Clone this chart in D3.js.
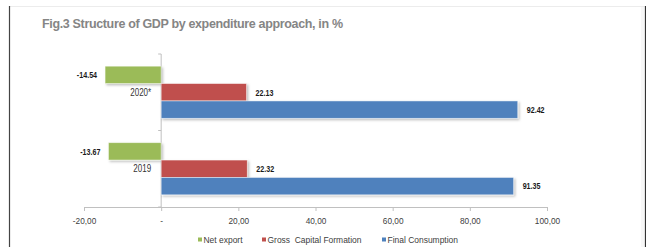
<!DOCTYPE html>
<html>
<head>
<meta charset="utf-8">
<script src="https://cdn.jsdelivr.net/npm/d3@7"></script>
<style>
  body { margin: 0; background: #fff; }
  svg { display: block; }
  text { font-family: "Liberation Sans", Arial, sans-serif; }
</style>
</head>
<body>
<svg id="chart" width="646" height="247"></svg>
<script>
/* global d3 */

// data
var years = ["2020*", "2019"];
var seriesNames = ["Net export", "Gross  Capital Formation", "Final Consumption"];
var netExport = [-14.54, -13.67];
var grossCapital = [22.13, 22.32];
var finalConsumption = [92.42, 91.35];
var xTicks = [-20, 0, 20, 40, 60, 80, 100];
var xTickLabels = ["-20,00", "-", "20,00", "40,00", "60,00", "80,00", "100,00"];

var colors = ["#9bbb59", "#c0504d", "#4f81bd"];
var values = [netExport, grossCapital, finalConsumption];

var svg = d3.select("#chart");

// no narrow font installed, so squeeze the text horizontally
function condense(sel, k) {
    sel.each(function () {
        var w = this.getComputedTextLength();
        d3.select(this).attr("textLength", w * k).attr("lengthAdjust", "spacingAndGlyphs");
    });
}

// frame
svg.append("line").attr("x1", 10).attr("x2", 645).attr("y1", 6.5).attr("y2", 6.5)
    .attr("stroke", "#ececec");
svg.append("line").attr("x1", 9.5).attr("x2", 9.5).attr("y1", 6).attr("y2", 247)
    .attr("stroke", "#444").attr("stroke-width", 1.2);
svg.append("rect").attr("x", 641).attr("y", 7).attr("width", 4).attr("height", 240).attr("fill", "#f7f7f7");
svg.append("line").attr("x1", 645.5).attr("x2", 645.5).attr("y1", 6).attr("y2", 247)
    .attr("stroke", "#333").attr("stroke-width", 1.2);

// title
svg.append("text")
    .attr("x", 42).attr("y", 28)
    .attr("font-weight", "bold")
    .attr("font-size", 12.5)
    .attr("fill", "#858585")
    .attr("textLength", 301)
    .text("Fig.3 Structure of GDP by expenditure approach, in %");

var defs = svg.append("defs");
var f = defs.append("filter").attr("id", "shadow").attr("x", "-10%").attr("y", "-30%")
    .attr("width", "130%").attr("height", "180%");
f.append("feDropShadow").attr("dx", 1.5).attr("dy", 1.5).attr("stdDeviation", 1)
    .attr("flood-color", "#000").attr("flood-opacity", 0.25);

var x = d3.scaleLinear().domain([-20, 100]).range([84, 547]);
var y0 = d3.scaleBand().domain(years).range([54, 207]);
var y1 = d3.scaleBand().domain(d3.range(seriesNames.length))
    .range([0, y0.bandwidth()]).paddingInner(0).paddingOuter(0.7);

var axisColor = "#c0c0c0";

// x axis
var xAxis = svg.append("g").attr("transform", "translate(0,207)")
    .call(d3.axisBottom(x).tickValues(xTicks).tickSize(4)
        .tickFormat(function (d, i) { return xTickLabels[i]; }));
xAxis.select(".domain").attr("stroke", axisColor);
xAxis.selectAll(".tick line").attr("stroke", axisColor);
xAxis.selectAll(".tick text")
    .attr("font-family", "Liberation Sans, Arial, sans-serif")
    .attr("font-size", 9.5).attr("fill", "#404040").attr("dy", "1.05em")
    .call(condense, 0.87);

// y axis at zero
var yAxis = svg.append("g").attr("transform", "translate(" + x(0) + ",0)");
yAxis.append("line").attr("y1", 54).attr("y2", 207).attr("stroke", axisColor);
yAxis.selectAll("line.tk").data([54, 54 + y0.step(), 207]).enter().append("line")
    .attr("class", "tk").attr("x1", -3).attr("x2", 0)
    .attr("y1", function (d) { return d; }).attr("y2", function (d) { return d; })
    .attr("stroke", axisColor);

// bars
var groups = svg.selectAll("g.year").data(years).enter().append("g")
    .attr("class", "year")
    .attr("transform", function (d) { return "translate(0," + y0(d) + ")"; });

groups.each(function (yr, yi) {
    var g = d3.select(this);
    values.forEach(function (vals, si) {
        var v = vals[yi];
        g.append("rect")
            .attr("x", x(Math.min(0, v)))
            .attr("y", y1(si))
            .attr("width", Math.abs(x(v) - x(0)))
            .attr("height", y1.bandwidth())
            .attr("fill", colors[si])
            .attr("stroke", "#ffffff").attr("stroke-opacity", 0.6).attr("stroke-width", 0.8)
            .attr("filter", "url(#shadow)");
        g.append("text")
            .attr("x", v < 0 ? x(v) - 8 : x(v) + 9)
            .attr("y", y1(si) + y1.bandwidth() / 2)
            .attr("dy", "0.35em")
            .attr("text-anchor", v < 0 ? "end" : "start")
            .attr("font-size", 9.5)
            .attr("font-weight", "bold")
            .attr("fill", "#1a1a1a")
            .text(v.toFixed(2))
            .call(condense, 0.75);
    });
    g.append("text")
        .attr("x", x(0) - 10)
        .attr("y", y0.bandwidth() / 2)
        .attr("dy", "0.35em")
        .attr("text-anchor", "end")
        .attr("font-size", 10)
        .attr("fill", "#333")
        .text(yr)
        .call(condense, 0.8);
});

// legend
var legendX = [198, 262, 382];
var legend = svg.selectAll("g.leg").data(seriesNames).enter().append("g")
    .attr("class", "leg")
    .attr("transform", function (d, i) { return "translate(" + legendX[i] + ",240)"; });
legend.append("rect").attr("x", 0).attr("y", -2.5).attr("width", 4).attr("height", 4)
    .attr("fill", function (d, i) { return colors[i]; });
legend.append("text")
    .attr("x", 5.5).attr("dy", "0.32em")
    .attr("font-size", 9.5).attr("fill", "#404040")
    .attr("xml:space", "preserve")
    .text(function (d) { return d; })
    .call(condense, 0.89);
</script>
</body>
</html>
